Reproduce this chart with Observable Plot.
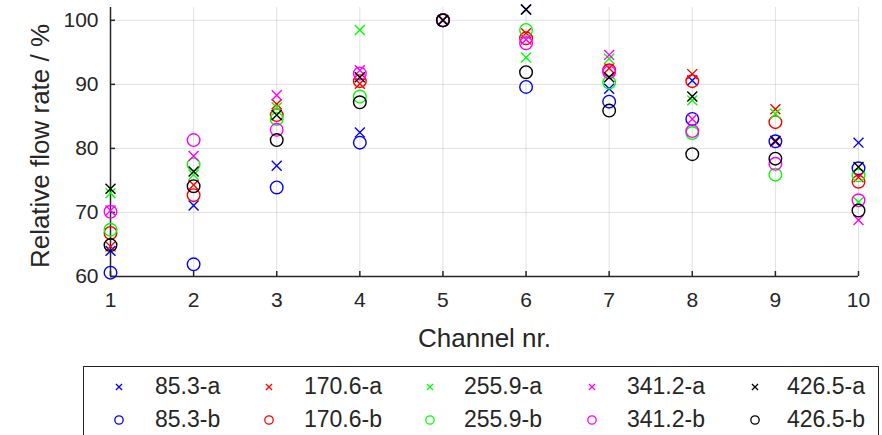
<!DOCTYPE html>
<html>
<head>
<meta charset="utf-8">
<script src="https://cdn.jsdelivr.net/npm/d3@7"></script>
<script src="https://cdn.jsdelivr.net/npm/@observablehq/plot@0.6"></script>
<style>
  html, body { margin: 0; padding: 0; background: #fff; }
  #wrap { position: relative; width: 882px; height: 435px; overflow: hidden; font-family: "Liberation Sans", Arial, sans-serif; color: #262626; }
  #legend { position: absolute; left: 83px; top: 366px; width: 796px; height: 90px; border: 1px solid #262626; background: #fff; box-sizing: border-box; }
  .li { position: absolute; font-size: 23px; line-height: 23px; white-space: nowrap; }
  .lm { position: absolute; }
</style>
</head>
<body>
<div id="wrap"><div id="chart"></div><div id="legend"></div></div>
<script>
const channels = [1, 2, 3, 4, 5, 6, 7, 8, 9, 10];
const yTicks = [60, 70, 80, 90, 100];

const s85a  = [64.0, 71.1, 77.3, 82.5, 100, 101.7, 89.3, 90.6, 81.2, 80.9];
const s85b  = [60.6, 61.9, 73.9, 80.9, 100, 89.6, 87.3, 84.6, 81.1, 76.9];
const s170a = [64.7, 74.3, 86.9, 90.1, 100, 98.0, 92.5, 91.6, 86.1, 75.5];
const s170b = [66.8, 72.7, 85.2, 90.5, 100, 97.2, 92.2, 90.5, 84.1, 74.8];
const s255a = [73.0, 75.9, 86.4, 98.5, 100, 94.2, 94.0, 87.5, 85.4, 71.6];
const s255b = [67.3, 77.5, 84.6, 88.1, 100, 98.5, 90.3, 82.4, 75.9, 75.8];
const s341a = [70.3, 78.8, 88.3, 92.2, 100, 97.0, 94.6, 84.6, 81.0, 68.8];
const s341b = [70.1, 81.3, 82.9, 91.7, 100, 96.4, 91.9, 82.7, 77.6, 71.9];
const s426a = [73.7, 76.4, 85.2, 91.1, 100, 101.7, 91.1, 88.1, 81.1, 77.1];
const s426b = [64.9, 74.1, 81.3, 87.2, 100, 91.9, 85.9, 79.1, 78.4, 70.3];

const seriesNames = ["85.3-a", "85.3-b", "170.6-a", "170.6-b", "255.9-a", "255.9-b", "341.2-a", "341.2-b", "426.5-a", "426.5-b"];
const seriesValues = [s85a, s85b, s170a, s170b, s255a, s255b, s341a, s341b, s426a, s426b];
const seriesColors = ["#0000ff", "#0000ff", "#ff0000", "#ff0000", "#00ff00", "#00ff00", "#ff00ff", "#ff00ff", "#000000", "#000000"];
const seriesSymbols = ["times", "circle", "times", "circle", "times", "circle", "times", "circle", "times", "circle"];

const axisColor = "#262626";

const dotMarks = seriesValues.map((vals, i) => Plot.dot(
  channels.map((c, j) => ({channel: c, value: vals[j]})),
  {
    x: "channel", y: "value",
    symbol: () => seriesSymbols[i],
    stroke: seriesColors[i],
    r: seriesSymbols[i] === "circle" ? 6.3 : 4.6,
    strokeWidth: 1.4,
    fill: "none"
  }
));

const chart = Plot.plot({
  width: 882,
  height: 362,
  marginLeft: 110,
  marginRight: 24,
  marginTop: 7,
  marginBottom: 86,
  style: {fontFamily: "Liberation Sans, Arial, sans-serif", fontSize: "21px", color: axisColor, background: "#fff"},
  x: {domain: [1, 10]},
  y: {domain: [60, 102]},
  symbol: {type: "identity"},
  marks: [
    Plot.gridX(channels, {stroke: "#000", strokeOpacity: 0.12, strokeWidth: 1}),
    Plot.gridY(yTicks, {stroke: "#000", strokeOpacity: 0.12, strokeWidth: 1}),
    Plot.axisX(channels, {tickSize: -5, tickPadding: 21, stroke: axisColor, strokeWidth: 1.5, fill: axisColor, label: null, tickFormat: d => String(d)}),
    Plot.axisY(yTicks, {tickSize: -5, tickPadding: 17, stroke: axisColor, strokeWidth: 1.5, fill: axisColor, label: null}),
    Plot.ruleY([60], {stroke: axisColor, strokeWidth: 1.5}),
    Plot.ruleX([1], {stroke: axisColor, strokeWidth: 1.5}),
    ...dotMarks,
    Plot.text(["Channel nr."], {frameAnchor: "bottom", dy: 70, fontSize: 26, fill: axisColor, text: d => d}),
    Plot.text(["Relative flow rate / %"], {frameAnchor: "left", textAnchor: "middle", dx: -70, dy: 4, rotate: -90, fontSize: 26, fill: axisColor, text: d => d})
  ]
});
document.getElementById("chart").appendChild(chart);

// Legend (column-major order like the source figure)
const legend = document.getElementById("legend");
const colX = [118, 268, 429, 591, 754];
const textX = [154, 303, 463, 626, 786];
const rowY = [386, 419];
seriesNames.forEach((name, i) => {
  const col = Math.floor(i / 2), row = i % 2;
  const mx = colX[col] - 83, my = rowY[row] - 366;
  const svg = d3.create("svg").attr("class", "lm").attr("width", 16).attr("height", 16)
    .style("left", (mx - 8) + "px").style("top", (my - 8) + "px");
  const sym = seriesSymbols[i] === "circle" ? d3.symbolCircle : d3.symbolTimes;
  const size = seriesSymbols[i] === "circle" ? 55 : 26;
  svg.append("path").attr("d", d3.symbol(sym, size)()).attr("transform", "translate(8,8)")
    .attr("fill", "none").attr("stroke", seriesColors[i]).attr("stroke-width", 1.3);
  legend.appendChild(svg.node());
  const t = document.createElement("div");
  t.className = "li";
  t.textContent = name;
  t.style.left = (textX[col] - 83) + "px";
  t.style.top = (my - 12) + "px";
  legend.appendChild(t);
});
</script>
</body>
</html>
